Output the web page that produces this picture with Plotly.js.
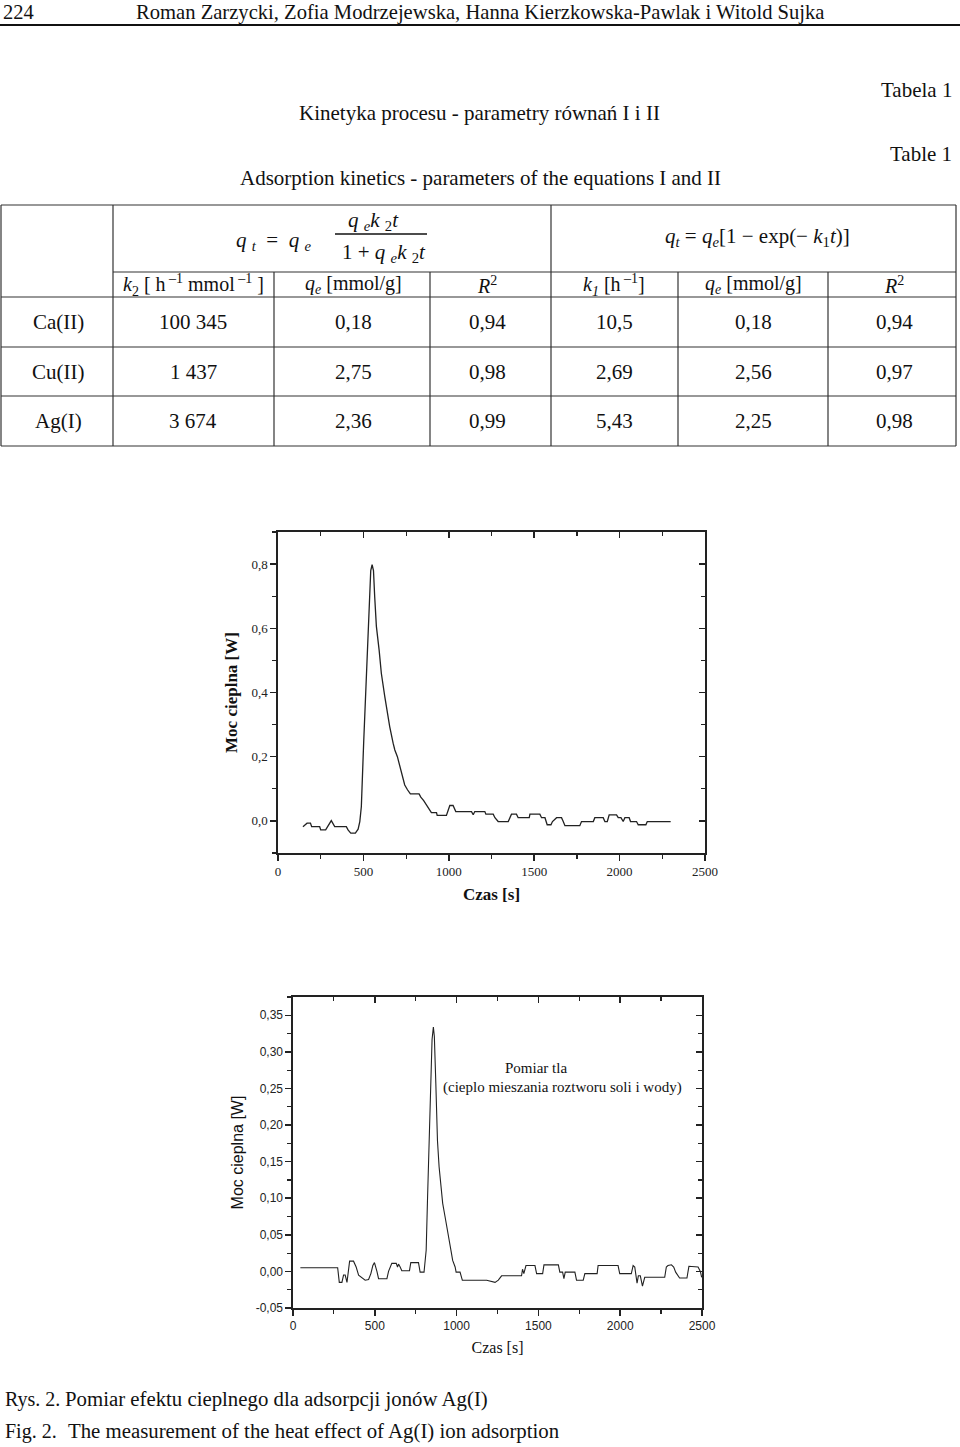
<!DOCTYPE html>
<html>
<head>
<meta charset="utf-8">
<script src="https://cdn.plot.ly/plotly-3.0.1.min.js"></script>
<style>html,body{margin:0;padding:0;background:#fff;}#page{width:960px;height:1447px;}</style>
</head>
<body>
<div id="page"></div>
<script>
// ---------- data ----------
// Table 1
var ions = ["Ca(II)", "Cu(II)", "Ag(I)"];
var k2Vals = ["100 345", "1 437", "3 674"];
var qe2Vals = ["0,18", "2,75", "2,36"];
var r2Vals2 = ["0,94", "0,98", "0,99"];
var k1Vals = ["10,5", "2,69", "5,43"];
var qe1Vals = ["0,18", "2,56", "2,25"];
var r2Vals1 = ["0,94", "0,97", "0,98"];
var subHeaders = ["<i>k</i><sub>2</sub> [ h<sup> –1</sup> mmol<sup> –1</sup> ]", "<i>q<sub>e</sub></i> [mmol/g]", "<i>R</i><sup>2</sup>",
                  "<i>k<sub>1</sub></i> [h<sup> –1</sup>]", "<i>q<sub>e</sub></i> [mmol/g]", "<i>R</i><sup>2</sup>"];

// Chart 1: Ag(I) adsorption heat effect
var t1 = [146,170,190,197,244,250,279,312,332,400,410,426,453,469,479,488,502,518,533,543,551,559,566,576,592,605,625,639,654,674,684,699,713,729,742,758,775,826,836,853,869,889,898,928,932,986,1006,1025,1041,1133,1143,1152,1211,1217,1260,1270,1289,1348,1367,1396,1406,1471,1475,1533,1543,1563,1576,1598,1607,1631,1660,1670,1680,1767,1777,1846,1855,1904,1914,1928,1939,1982,1992,2008,2021,2031,2056,2064,2099,2109,2154,2162,2299];
var p1 = [-0.018,-0.007,-0.007,-0.018,-0.018,-0.028,-0.028,0.001,-0.018,-0.018,-0.028,-0.038,-0.038,-0.026,-0.002,0.045,0.25,0.46,0.668,0.78,0.798,0.78,0.70,0.606,0.533,0.46,0.388,0.336,0.294,0.242,0.221,0.20,0.169,0.138,0.112,0.097,0.084,0.084,0.074,0.063,0.05,0.036,0.026,0.026,0.017,0.017,0.048,0.048,0.029,0.029,0.019,0.029,0.029,0.021,0.021,0.010,-0.002,-0.002,0.021,0.021,0.010,0.010,0.021,0.021,0.010,0.010,-0.012,-0.012,-0.002,0.010,0.010,-0.002,-0.015,-0.015,-0.002,-0.002,0.010,0.010,-0.002,-0.002,0.019,0.019,0.010,0.010,-0.002,0.010,0.010,-0.002,-0.002,-0.012,-0.012,-0.002,-0.002];

// Chart 2: background measurement
var t2 = [45,273,283,299,309,319,330,346,370,386,401,421,441,462,476,488,498,513,523,574,584,604,631,639,645,655,665,712,720,767,777,801,814,822,832,842,850,858,864,873,883,893,903,915,930,946,956,966,976,991,997,1021,1035,1184,1235,1255,1275,1397,1403,1411,1424,1479,1489,1526,1534,1622,1631,1648,1656,1664,1723,1733,1774,1784,1859,1865,1987,1997,2068,2079,2089,2095,2103,2111,2123,2136,2150,2272,2282,2292,2313,2327,2339,2363,2408,2420,2445,2476,2490,2498];
var p2 = [0.005,0.005,-0.015,-0.015,-0.005,-0.005,-0.015,0.014,0.014,0.006,-0.005,-0.008,-0.012,-0.011,-0.003,0.008,0.012,0.000,-0.010,-0.010,0.000,0.011,0.011,0.006,0.010,0.006,0.001,0.001,0.012,0.012,-0.001,-0.001,0.029,0.097,0.189,0.271,0.317,0.334,0.321,0.257,0.179,0.143,0.122,0.093,0.074,0.051,0.042,0.028,0.015,0.006,-0.001,-0.001,-0.012,-0.012,-0.015,-0.012,-0.006,-0.006,0.003,-0.003,0.008,0.008,-0.003,-0.003,0.009,0.009,-0.001,-0.001,-0.010,-0.001,-0.001,-0.012,-0.012,-0.003,-0.003,0.008,0.008,-0.003,-0.003,0.008,0.006,-0.008,-0.016,-0.006,-0.006,-0.020,-0.008,-0.008,0.006,0.008,0.009,0.006,-0.001,-0.009,-0.009,0.007,0.007,0.006,0.000,-0.008];

var xTickVals = [0, 500, 1000, 1500, 2000, 2500];
var y1TickVals = [0, 0.2, 0.4, 0.6, 0.8];
var y1TickText = ["0,0", "0,2", "0,4", "0,6", "0,8"];
var y2TickVals = [-0.05, 0, 0.05, 0.1, 0.15, 0.2, 0.25, 0.3, 0.35];
var y2TickText = ["-0,05", "0,00", "0,05", "0,10", "0,15", "0,20", "0,25", "0,30", "0,35"];

// ---------- helpers ----------
var W = 960, H = 1447;
function X(px){ return px / W; }
function Y(py){ return 1 - py / H; }
var SERIF = "Liberation Serif, Times New Roman, serif";
var SANS = "Liberation Sans, Arial, sans-serif";
var annotations = [];
var shapes = [];
function txt(text, x, y, opts){
  opts = opts || {};
  annotations.push({
    text: text, xref: "paper", yref: "paper", x: X(x), y: Y(y),
    xanchor: opts.xa || "center", yanchor: opts.ya || "middle", showarrow: false,
    font: {family: opts.family || SERIF, size: opts.size || 21, color: opts.color || "#111"}
  });
}
function line(x0, y0, x1, y1, w, c){
  shapes.push({type: "line", xref: "paper", yref: "paper", x0: X(x0), y0: Y(y0), x1: X(x1), y1: Y(y1),
    line: {color: c || "#333", width: w || 1}});
}

// ---------- page header ----------
txt("224", 1, 12, {xa: "left", size: 20.5});
txt("Roman Zarzycki, Zofia Modrzejewska, Hanna Kierzkowska-Pawlak i Witold Sujka", 134, 12, {xa: "left", size: 20.6});
line(0, 25, 960, 25, 2, "#111");
txt("Tabela 1", 954, 90, {xa: "right"});
txt("Kinetyka procesu - parametry równań I i II", 479, 113);
txt("Table 1", 954, 154, {xa: "right"});
txt("Adsorption kinetics - parameters of the equations I and II", 480, 178);

// ---------- table ----------
line(1, 205, 956, 205, 1.2);
line(113, 272, 956, 272, 1.2);
line(1, 297, 956, 297, 1.2);
line(1, 347, 956, 347, 1.2);
line(1, 396, 956, 396, 1.2);
line(1, 446, 956, 446, 1.2);
line(1, 205, 1, 446, 1.2);
line(956, 205, 956, 446, 1.2);
line(113, 205, 113, 446, 1.2);
line(551, 205, 551, 446, 1.2);
[274, 430, 678, 828].forEach(function(cx){ line(cx, 272, cx, 446, 1.2); });

// formula I (pseudo-second order)
txt("<i>q</i> <sub><i>t</i></sub>  =  <i>q</i> <sub><i>e</i></sub>", 313, 241, {xa: "right"});
txt("<i>q</i> <sub><i>e</i></sub><i>k</i> <sub>2</sub><i>t</i>", 373, 221);
line(335, 234, 427, 234, 1.3, "#111");
txt("1 + <i>q</i> <sub><i>e</i></sub><i>k</i> <sub>2</sub><i>t</i>", 384, 253);
// formula II (pseudo-first order)
txt("<i>q<sub>t</sub></i> = <i>q<sub>e</sub></i>[1 − exp(− <i>k</i><sub>1</sub><i>t</i>)]", 757, 237);

// sub headers
var colCenters = [193, 353, 487, 614, 753, 894];
subHeaders.forEach(function(h, i){ txt(h, colCenters[i], 285, {size: 20}); });

// data rows
var rowCenters = [322, 372, 421];
var cols = [k2Vals, qe2Vals, r2Vals2, k1Vals, qe1Vals, r2Vals1];
ions.forEach(function(ion, r){
  txt(ion, 58, rowCenters[r]);
  cols.forEach(function(c, j){ txt(c[r], colCenters[j], rowCenters[r]); });
});

// ---------- chart annotations & captions ----------
txt("Pomiar tla", 536, 1068, {size: 15});
txt("(cieplo mieszania roztworu soli i wody)", 562, 1087, {size: 15});
txt("Rys. 2.", 3, 1399, {xa: "left", size: 20});
txt("Pomiar efektu cieplnego dla adsorpcji jonów Ag(I)", 63, 1399, {xa: "left", size: 20.8});
txt("Fig. 2.", 3, 1431, {xa: "left", size: 20});
txt("The measurement of the heat effect of Ag(I) ion adsorption", 66, 1431, {xa: "left", size: 20.8});

// ---------- axes ----------
var AX = "#222";
function mainX(domain, anchor, fontFam, fontSize, titleText, titleBold, titleSize, standoff){
  return {
    domain: domain, anchor: anchor, range: [0, 2500], tickmode: "array", tickvals: xTickVals,
    ticks: "outside", ticklen: 6, tickwidth: 1.5, tickcolor: AX,
    minor: {tickmode: "linear", tick0: 0, dtick: 250, ticks: "outside", ticklen: 4, tickwidth: 1.2, tickcolor: AX},
    showline: true, linecolor: AX, linewidth: 1.6, mirror: true, showgrid: false, zeroline: false,
    tickfont: {family: fontFam, size: fontSize, color: "#222"},
    title: {text: titleBold ? "<b>" + titleText + "</b>" : titleText, font: {family: SERIF, size: titleSize, color: "#111"}, standoff: standoff},
    fixedrange: true
  };
}
function mainY(domain, anchor, range, vals, text, minorDtick, fontFam, fontSize, titleText, titleBold, titleFam, titleSize, standoff){
  return {
    domain: domain, anchor: anchor, range: range, tickmode: "array", tickvals: vals, ticktext: text,
    ticks: "outside", ticklen: 6, tickwidth: 1.5, tickcolor: AX,
    minor: {tickmode: "linear", tick0: 0, dtick: minorDtick, ticks: "outside", ticklen: 4, tickwidth: 1.2, tickcolor: AX},
    showline: true, linecolor: AX, linewidth: 1.6, mirror: true, showgrid: false, zeroline: false,
    tickfont: {family: fontFam, size: fontSize, color: "#222"},
    title: {text: titleBold ? "<b>" + titleText + "</b>" : titleText, font: {family: titleFam, size: titleSize, color: "#111"}, standoff: standoff},
    fixedrange: true
  };
}
function overX(over, anchor){
  return {overlaying: over, anchor: anchor, side: "top", range: [0, 2500], tickmode: "array", tickvals: xTickVals,
    ticks: "inside", ticklen: 6, tickwidth: 1.5, tickcolor: AX, showticklabels: false, showline: false, showgrid: false, zeroline: false,
    minor: {tickmode: "linear", tick0: 0, dtick: 250, ticks: "inside", ticklen: 4, tickwidth: 1.2, tickcolor: AX}, fixedrange: true};
}
function overY(over, anchor, range, vals, minorDtick){
  return {overlaying: over, anchor: anchor, side: "right", range: range, tickmode: "array", tickvals: vals,
    ticks: "inside", ticklen: 6, tickwidth: 1.5, tickcolor: AX, showticklabels: false, showline: false, showgrid: false, zeroline: false,
    minor: {tickmode: "linear", tick0: 0, dtick: minorDtick, ticks: "inside", ticklen: 4, tickwidth: 1.2, tickcolor: AX}, fixedrange: true};
}

var dx1 = [X(278), X(705)], dy1 = [Y(853), Y(532)];
var dx2 = [X(293), X(702)], dy2 = [Y(1308), Y(997)];
var yr1 = [-0.1, 0.9], yr2 = [-0.05, 0.375];

var traces = [
  {x: t1, y: p1, xaxis: "x", yaxis: "y", type: "scatter", mode: "lines", line: {color: "#222", width: 1.3}, hoverinfo: "skip"},
  {x: t2, y: p2, xaxis: "x2", yaxis: "y2", type: "scatter", mode: "lines", line: {color: "#222", width: 1.1}, hoverinfo: "skip"},
  // empty traces so that the inside-tick frame axes (top / right) are drawn
  {x: [], y: [], xaxis: "x3", yaxis: "y", type: "scatter", mode: "lines", hoverinfo: "skip"},
  {x: [], y: [], xaxis: "x", yaxis: "y3", type: "scatter", mode: "lines", hoverinfo: "skip"},
  {x: [], y: [], xaxis: "x4", yaxis: "y2", type: "scatter", mode: "lines", hoverinfo: "skip"},
  {x: [], y: [], xaxis: "x2", yaxis: "y4", type: "scatter", mode: "lines", hoverinfo: "skip"}
];

var layout = {
  width: W, height: H, margin: {l: 0, r: 0, t: 0, b: 0},
  paper_bgcolor: "#fff", plot_bgcolor: "rgba(0,0,0,0)", showlegend: false,
  xaxis: mainX(dx1, "y", SERIF, 13, "Czas [s]", true, 17, 10),
  yaxis: mainY(dy1, "x", yr1, y1TickVals, y1TickText, 0.1, SERIF, 13, "Moc cieplna [W]", true, SERIF, 17, 9),
  xaxis2: mainX(dx2, "y2", SANS, 12, "Czas [s]", false, 16, 10),
  yaxis2: mainY(dy2, "x2", yr2, y2TickVals, y2TickText, 0.025, SANS, 12, "Moc cieplna [W]", false, SANS, 16, 8),
  xaxis3: overX("x", "y"),
  yaxis3: overY("y", "x", yr1, y1TickVals, 0.1),
  xaxis4: overX("x2", "y2"),
  yaxis4: overY("y2", "x2", yr2, y2TickVals, 0.025),
  annotations: annotations, shapes: shapes
};

Plotly.newPlot("page", traces, layout, {staticPlot: true, displayModeBar: false});
</script>
</body>
</html>
